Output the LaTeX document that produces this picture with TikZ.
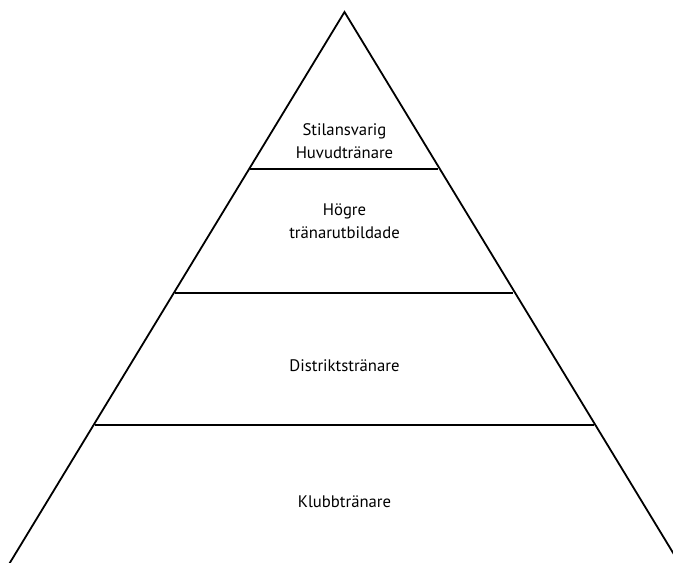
\documentclass[tikz,border=0pt]{standalone}
\usepackage{fontspec}
\setmainfont{PT Sans}
\begin{document}
\begin{tikzpicture}[x=1pt,y=-1pt,
  edge/.style={line width=1.8pt,line cap=butt,line join=miter},
  level/.style={line width=2.2pt},
  lbl/.style={font=\fontsize{16.7}{22.5}\selectfont,align=center,inner sep=0pt}]
\useasboundingbox (0,0) rectangle (673,563);
\clip (0,0) rectangle (673,563);
\coordinate (apex) at (344.5,12);
\coordinate (bl) at (-20,612);
\coordinate (br) at (709,612);
\draw[edge] (bl) -- (apex) -- (br);
\coordinate (l1a) at (250,169); \coordinate (l1b) at (438,169);
\coordinate (l2a) at (175,293); \coordinate (l2b) at (513,293);
\coordinate (l3a) at (95,425);  \coordinate (l3b) at (594,425);
\draw[level] (l1a) -- (l1b);
\draw[level] (l2a) -- (l2b);
\draw[level] (l3a) -- (l3b);
\node[lbl] (t1) at (344.5,141) {Stilansvarig\\Huvudtränare};
\node[lbl] (t2) at (344.5,221) {Högre\\tränarutbildade};
\node[lbl] (t3) at (344.5,366) {Distriktstränare};
\node[lbl] (t4) at (344.5,502) {Klubbtränare};
\end{tikzpicture}
\end{document}
